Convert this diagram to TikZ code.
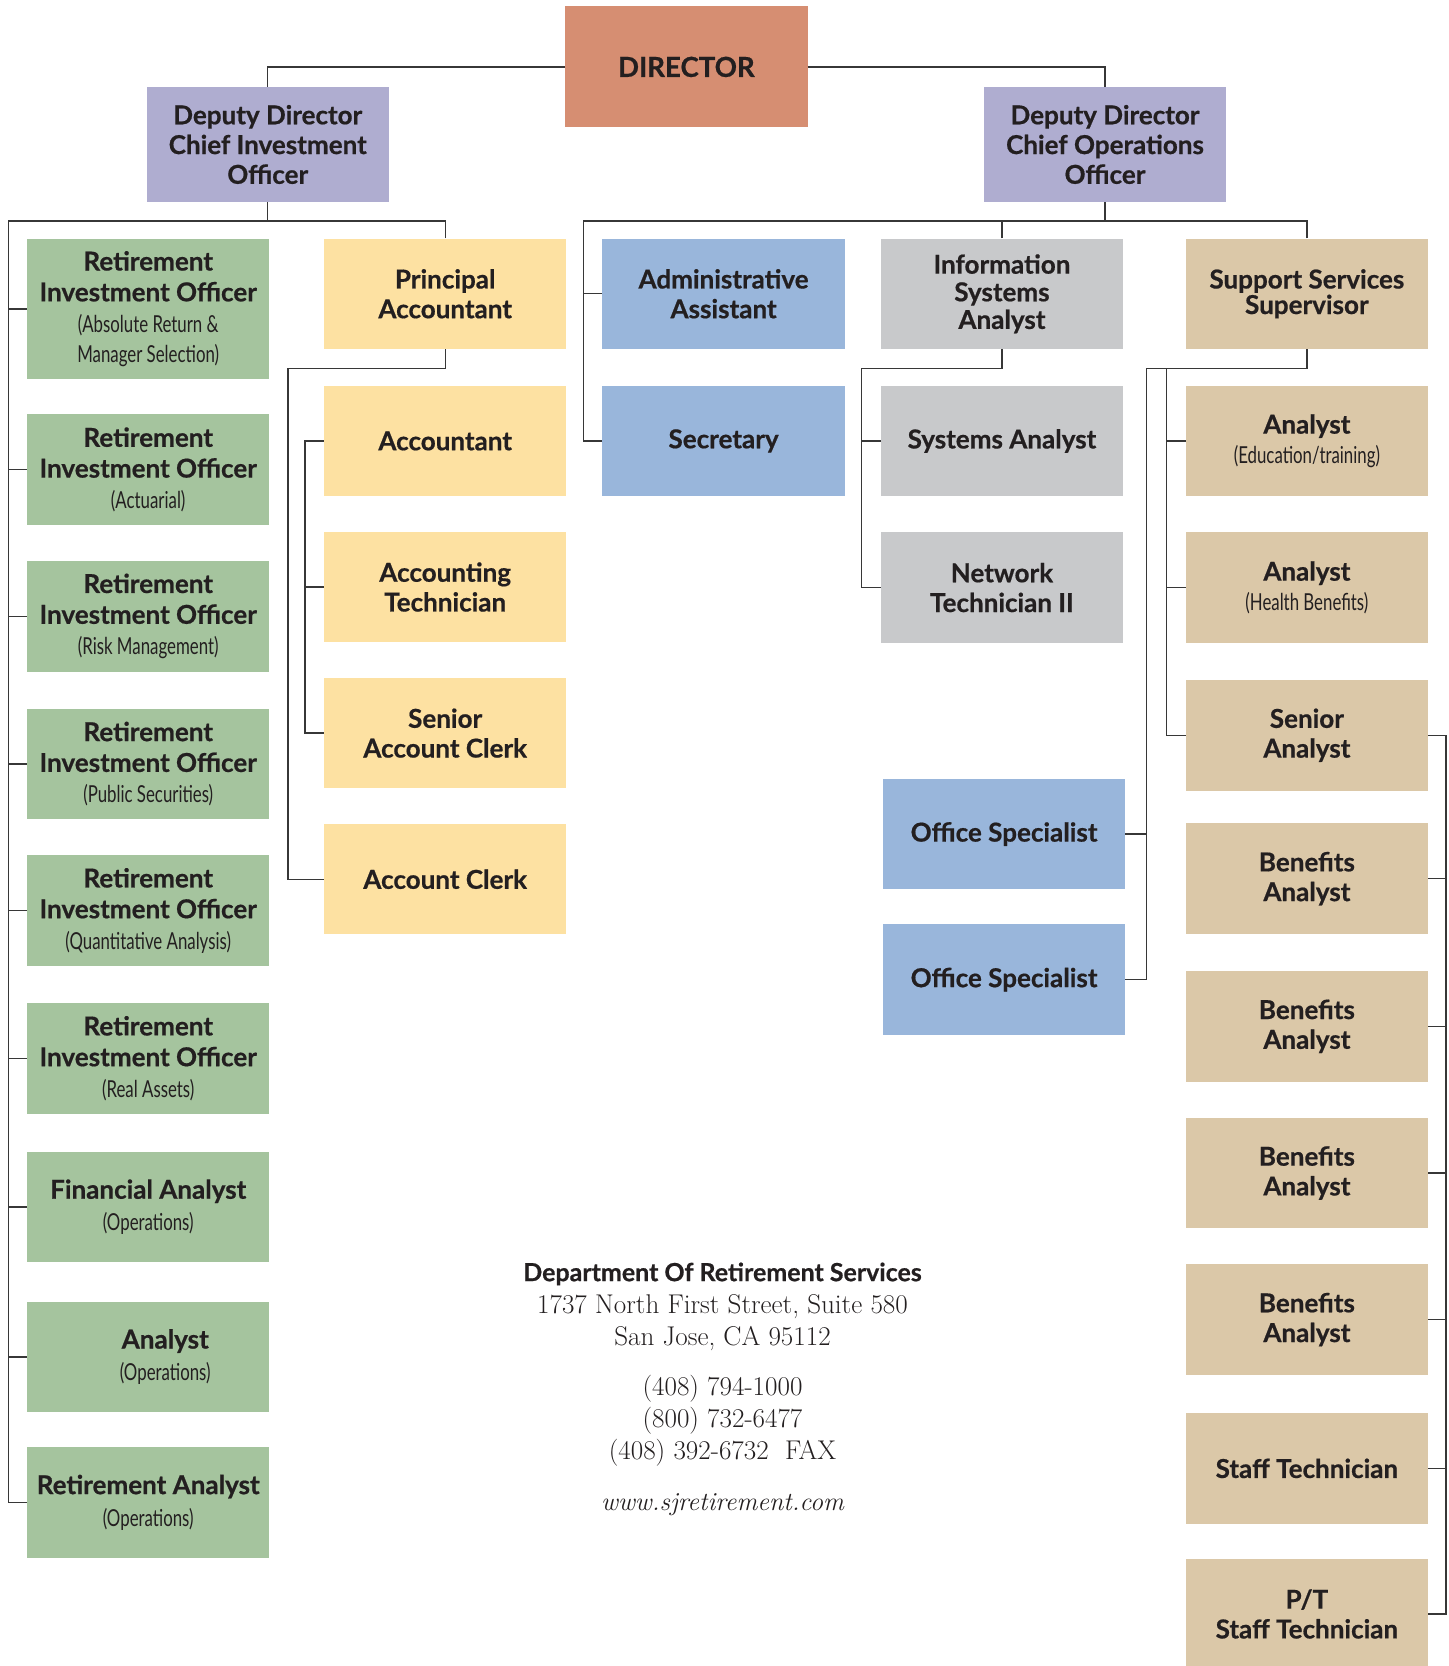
\documentclass[tikz,border=0pt]{standalone}
\usepackage{fontspec}
\newfontfamily\boxfont{Lato}[BoldFeatures={FakeBold=0.6}]
\newfontfamily\narrowfont{Lato}[FakeStretch=0.72]
\newcommand{\roledetail}[1]{{\narrowfont\mdseries\fontsize{22}{29}\selectfont #1}}
\definecolor{directorclr}{RGB}{214,142,114}
\definecolor{deputyclr}{RGB}{175,173,208}
\definecolor{investclr}{RGB}{165,196,158}
\definecolor{acctclr}{RGB}{253,225,162}
\definecolor{officeclr}{RGB}{153,182,219}
\definecolor{techclr}{RGB}{200,201,203}
\definecolor{supportclr}{RGB}{219,200,168}
\definecolor{inkclr}{RGB}{35,31,32}
\definecolor{lineclr}{RGB}{55,55,55}

\begin{document}
\begin{tikzpicture}[x=1pt, y=-1pt,
  post/.style={rectangle, inner sep=0pt, minimum width=228pt, minimum height=104pt,
    align=center, text=inkclr, font=\boxfont\bfseries\fontsize{24.5}{28}\selectfont},
  link/.style={draw=lineclr, line width=1.3pt}]
  \useasboundingbox (0,0) rectangle (1363,1568);

  % Director and the two deputies
  \node[post, fill=directorclr, minimum height=114pt,
    font=\boxfont\bfseries\fontsize{26}{30}\selectfont] (dir) at (646,63) {DIRECTOR};
  \node[post, fill=deputyclr, minimum height=108pt] (cio) at (252,136)
    {Deputy Director\\Chief Investment\\Officer};
  \node[post, fill=deputyclr, minimum height=108pt] (coo) at (1040,136)
    {Deputy Director\\Chief Operations\\Officer};

  % Investment column (green)
  \node[post, fill=investclr, minimum height=132pt,
    font=\boxfont\bfseries\fontsize{24.5}{29}\selectfont] (rio1) at (139.5,291)
    {Retirement\\Investment Officer\\\roledetail{(Absolute Return \&}\\\roledetail{Manager Selection)}};
  \foreach \name/\ypos/\detail in {rio2/442/{(Actuarial)}, rio3/580/{(Risk Management)},
      rio4/719/{(Public Securities)}, rio5/857/{(Quantitative Analysis)},
      rio6/996/{(Real Assets)}} {
    \node[post, fill=investclr, font=\boxfont\bfseries\fontsize{24.5}{29}\selectfont]
      (\name) at (139.5,\ypos) {Retirement\\Investment Officer\\\roledetail{\detail}};
  }
  \node[post, fill=investclr, font=\boxfont\bfseries\fontsize{24.5}{30}\selectfont] (fa) at (139.5,1136)
    {Financial Analyst\\\roledetail{(Operations)}};
  \node[post, fill=investclr, font=\boxfont\bfseries\fontsize{24.5}{30}\selectfont] (opan) at (139.5,1277)
    {\hspace*{32pt}Analyst\\\hspace*{32pt}\roledetail{(Operations)}};
  \node[post, fill=investclr, font=\boxfont\bfseries\fontsize{24.5}{30}\selectfont] (ra) at (139.5,1414)
    {Retirement Analyst\\\roledetail{(Operations)}};

  % Accounting column (yellow)
  \node[post, fill=acctclr] (pacct) at (419,276.5) {Principal\\Accountant};
  \node[post, fill=acctclr] (acct) at (419,415) {Accountant};
  \node[post, fill=acctclr] (atech) at (419,552.5) {Accounting\\Technician};
  \node[post, fill=acctclr] (sac) at (419,690) {Senior\\Account Clerk};
  \node[post, fill=acctclr] (ac) at (419,827.5) {Account Clerk};

  % Office and systems columns (blue, grey)
  \node[post, fill=officeclr] (admin) at (681,276.5) {Administrative\\Assistant};
  \node[post, fill=officeclr] (sec) at (681,415) {Secretary};
  \node[post, fill=techclr, font=\boxfont\bfseries\fontsize{24.5}{26}\selectfont] (isa) at (943,276.5)
    {Information\\Systems\\Analyst};
  \node[post, fill=techclr] (sa) at (943,415) {Systems Analyst};
  \node[post, fill=techclr] (nt) at (943,553) {Network\\Technician II};
  \node[post, fill=officeclr] (os1) at (945,785) {Office Specialist};
  \node[post, fill=officeclr] (os2) at (945,922) {Office Specialist};

  % Support services column (tan)
  \node[post, fill=supportclr, font=\boxfont\bfseries\fontsize{24.5}{24}\selectfont] (sss) at (1230,276.5)
    {Support Services\\Supervisor};
  \node[post, fill=supportclr] (anedu) at (1230,415) {Analyst\\\roledetail{(Education/training)}};
  \node[post, fill=supportclr] (anhb) at (1230,553) {Analyst\\\roledetail{(Health Benefits)}};
  \node[post, fill=supportclr] (senan) at (1230,692) {Senior\\Analyst};
  \foreach \name/\ypos in {ba1/827, ba2/966, ba3/1104, ba4/1242} {
    \node[post, fill=supportclr] (\name) at (1230,\ypos) {Benefits\\Analyst};
  }
  \node[post, fill=supportclr] (st) at (1230,1382) {Staff Technician};
  \node[post, fill=supportclr] (pt) at (1230,1519) {P/T\\Staff Technician};

  % Director to deputies
  \draw[link] (dir.west) -| (cio.north);
  \draw[link] (dir.east) -| (coo.north);

  % Investment side
  \coordinate (invbus) at (8,208);
  \draw[link] (cio.south) -- (cio.south |- invbus);
  \draw[link] (pacct.north) |- (invbus) |- (ra.west);
  \foreach \n in {rio1,rio2,rio3,rio4,rio5,rio6,fa,opan}
    \draw[link] (\n.west) -- (invbus |- \n.west);
  \coordinate (pacctbus) at (271,347);
  \draw[link] (pacct.south) |- (pacctbus) |- (ac.west);
  \coordinate (clerkbus) at (287,415);
  \draw[link] (acct.west) -- (clerkbus) |- (sac.west);
  \draw[link] (atech.west) -- (clerkbus |- atech.west);

  % Operations side
  \coordinate (opsbus) at (549,208);
  \draw[link] (coo.south) -- (coo.south |- opsbus);
  \draw[link] (sss.north) |- (opsbus) |- (sec.west);
  \draw[link] (admin.west) -- (opsbus |- admin.west);
  \draw[link] (isa.north) -- (isa.north |- opsbus);
  \coordinate (sysbus) at (811,347);
  \draw[link] (isa.south) |- (sysbus) |- (nt.west);
  \draw[link] (sa.west) -- (sysbus |- sa.west);
  \coordinate (officebus) at (1079,347);
  \coordinate (analystbus) at (1098,347);
  \draw[link] (sss.south) |- (officebus) |- (os2.east);
  \draw[link] (os1.east) -- (officebus |- os1.east);
  \draw[link] (analystbus) |- (senan.west);
  \foreach \n in {anedu,anhb}
    \draw[link] (\n.west) -- (analystbus |- \n.west);
  \coordinate (staffbus) at (1361,692);
  \draw[link] (senan.east) -- (staffbus) |- (pt.east);
  \foreach \n in {ba1,ba2,ba3,ba4,st}
    \draw[link] (\n.east) -- (staffbus |- \n.east);

  % Address block
  \node[text=inkclr, font=\boxfont\bfseries\fontsize{23.5}{26}\selectfont] (dept) at (680,1199)
    {Department Of Retirement Services};
  \node[text=inkclr, align=center, font=\fontsize{25.5}{30}\selectfont] (street) at (680,1245)
    {1737 North First Street, Suite 580\\San Jose, CA 95112};
  \node[text=inkclr, align=center, font=\fontsize{25.5}{30}\selectfont] (phones) at (680,1337)
    {(408) 794-1000\\(800) 732-6477\\(408) 392-6732\ \ FAX};
  \node[text=inkclr, font=\itshape\fontsize{24.5}{30}\selectfont] (web) at (680,1416)
    {www.sjretirement.com};
\end{tikzpicture}
\end{document}
